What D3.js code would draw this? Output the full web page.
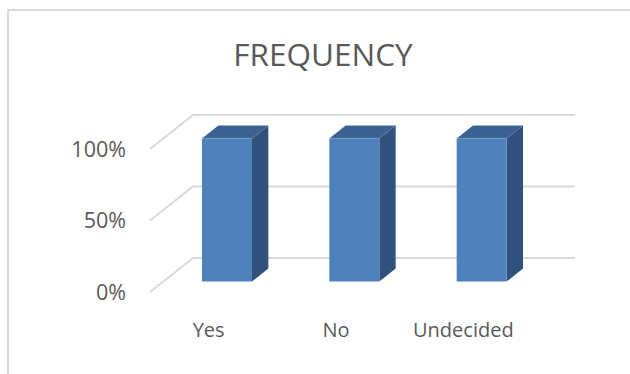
<!DOCTYPE html>
<html>
<head>
<meta charset="utf-8">
<script src="https://cdn.jsdelivr.net/npm/d3@7/dist/d3.min.js"></script>
<style>
  html, body { margin: 0; padding: 0; background: #fff; }
  svg { display: block; font-family: "Open Sans", "Noto Sans", sans-serif; }
</style>
</head>
<body>
<svg id="chart" width="630" height="374"></svg>
<script>
// Chart data
const title = "FREQUENCY";
const categories = ["Yes", "No", "Undecided"];
const values = [1, 1, 1];
const tickValues = [0, 0.5, 1];

const W = 630, H = 374;
const svg = d3.select("#chart");

// Chart area border (only top and left edges fall inside the view)
svg.append("rect")
  .attr("x", 8).attr("y", 10)
  .attr("width", W + 20).attr("height", H + 20)
  .attr("fill", "none").attr("stroke", "#d9d9d9").attr("stroke-width", 2);

// Front plane scales
const x = d3.scaleBand().domain(categories).range([150, 532]).paddingInner(0).paddingOuter(0);
const y = d3.scaleLinear().domain([0, 1]).range([292, 149]);

// Depth projection: depth fraction -> screen offset
const depthDX = 43, depthDY = -34;
const proj = (px, py, d) => [px + d * depthDX, py + d * depthDY];

// Back wall gridlines with the side-wall diagonals
const grid = svg.append("g");
tickValues.forEach(t => {
  const front = proj(x.range()[0], y(t), 0);
  const backL = proj(x.range()[0], y(t), 1);
  const backR = proj(x.range()[1], y(t), 1);
  grid.append("path")
    .attr("d", d3.line()([front, backL, backR]))
    .attr("fill", "none")
    .attr("stroke", "#d9d9d9")
    .attr("stroke-width", 2);
});

// Y tick labels
const fmt = d3.format(".0%");
svg.append("g").selectAll("text")
  .data(tickValues).join("text")
  .attr("x", 126)
  .attr("y", d => y(d))
  .attr("dy", "0.35em")
  .attr("text-anchor", "end")
  .attr("font-size", 21.5)
  .attr("fill", "#595959")
  .text(d => fmt(d));

// 3D columns
const d0 = 0.31, d1 = 0.69;
const barW = 50;
const bars = svg.append("g").selectAll("g")
  .data(categories.map((c, i) => ({ c, v: values[i] })))
  .join("g");

bars.each(function(d) {
  const g = d3.select(this);
  const xl = x(d.c) + (x.bandwidth() - barW) / 2;
  const xr = xl + barW;
  const yt = y(d.v), yb = y(0);
  const FL_T = proj(xl, yt, d0), FR_T = proj(xr, yt, d0);
  const FR_B = proj(xr, yb, d0), FL_B = proj(xl, yb, d0);
  const BL_T = proj(xl, yt, d1), BR_T = proj(xr, yt, d1);
  const BR_B = proj(xr, yb, d1);
  // side face
  g.append("path").attr("d", d3.line()([FR_T, BR_T, BR_B, FR_B]) + "Z")
    .attr("fill", "#30517b");
  // top face
  g.append("path").attr("d", d3.line()([FL_T, BL_T, BR_T, FR_T]) + "Z")
    .attr("fill", "#3b6293");
  // front face
  g.append("path").attr("d", d3.line()([FL_T, FR_T, FR_B, FL_B]) + "Z")
    .attr("fill", "#4f81bd");
});

// Category labels
svg.append("g").selectAll("text")
  .data(categories).join("text")
  .attr("x", d => x(d) + x.bandwidth() / 2 - 5)
  .attr("y", 337)
  .attr("text-anchor", "middle")
  .attr("font-size", 20)
  .attr("fill", "#595959")
  .text(d => d);

// Title
svg.append("text")
  .attr("x", 323).attr("y", 66)
  .attr("text-anchor", "middle")
  .attr("font-size", 31.5)
  .attr("fill", "#595959")
  .text(title);
</script>
</body>
</html>
